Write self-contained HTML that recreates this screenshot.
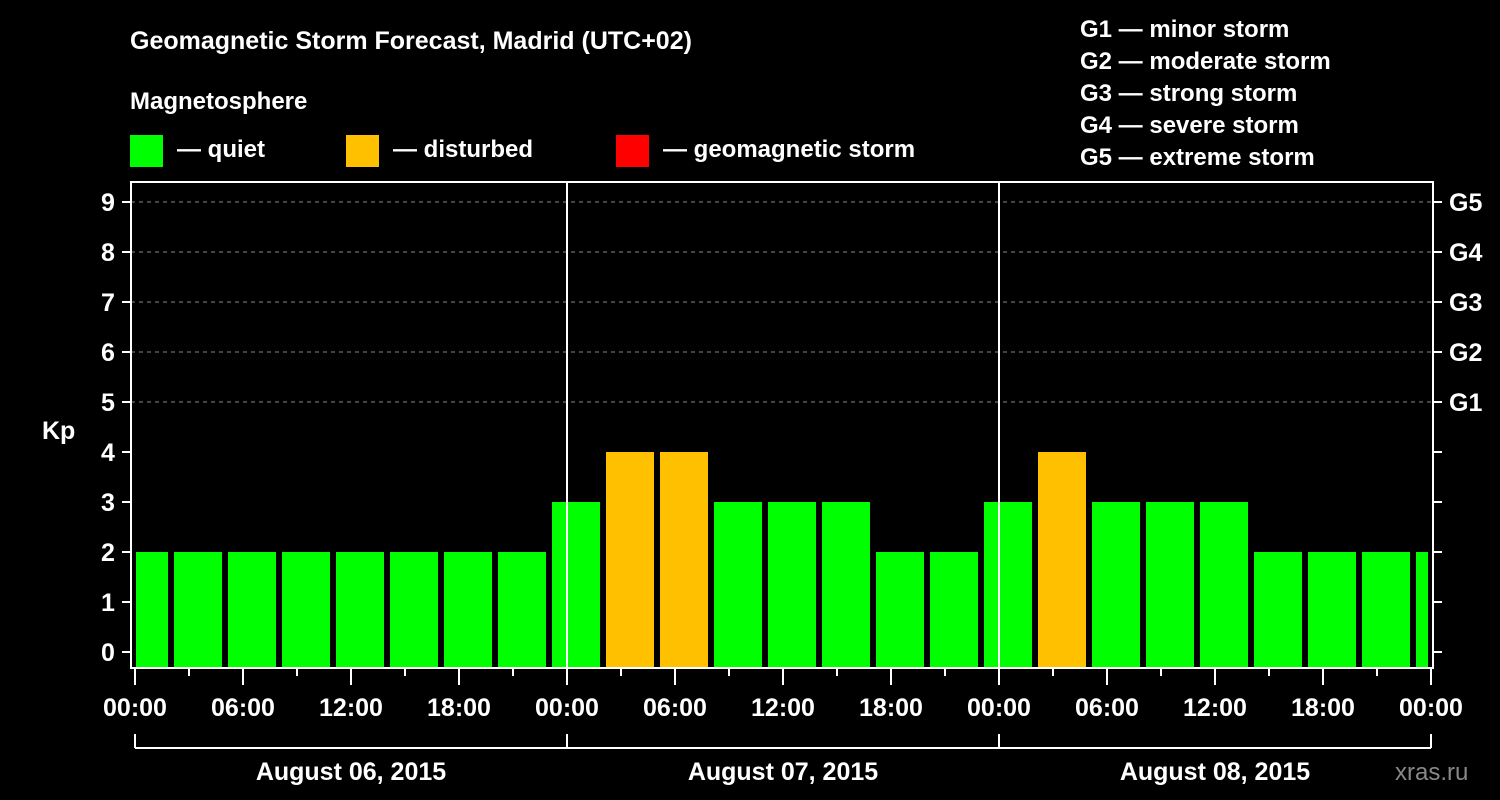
<!DOCTYPE html>
<html><head><meta charset="utf-8"><style>
html,body{margin:0;padding:0;background:#000;}
svg{display:block;font-family:"Liberation Sans",sans-serif;font-weight:bold;}
</style></head><body>
<svg width="1500" height="800" viewBox="0 0 1500 800">
<g id="static" fill="#fff">
<text x="130" y="49" font-size="25">Geomagnetic Storm Forecast, Madrid (UTC+02)</text>
<text x="130" y="109" font-size="24">Magnetosphere</text>
<rect x="130" y="135" width="33" height="32" fill="#00ff00"/>
<text x="177" y="157" font-size="24">— quiet</text>
<rect x="346" y="135" width="33" height="32" fill="#ffc000"/>
<text x="393" y="157" font-size="24">— disturbed</text>
<rect x="616" y="135" width="33" height="32" fill="#ff0000"/>
<text x="663" y="157" font-size="24">— geomagnetic storm</text>
<text x="1080" y="37" font-size="24">G1 — minor storm</text>
<text x="1080" y="69" font-size="24">G2 — moderate storm</text>
<text x="1080" y="101" font-size="24">G3 — strong storm</text>
<text x="1080" y="133" font-size="24">G4 — severe storm</text>
<text x="1080" y="165" font-size="24">G5 — extreme storm</text>
<text x="42" y="439" font-size="25">Kp</text>
<text x="1395" y="780" font-size="24" fill="#888" font-weight="normal">xras.ru</text>
</g>
<g id="grid"></g>
<g id="bars"></g>
<g id="axes"></g>
</svg>
<script>
const kpValues=[2,2,2,2,2,2,2,2,3,4,4,3,3,3,2,2,3,4,3,3,3,2,2,2,2];
const firstSlotHour=-1;
const slotHours=3;
const yTicks=[0,1,2,3,4,5,6,7,8,9];
const gLabels=["G1","G2","G3","G4","G5"];
const gLevels=[5,6,7,8,9];
const xTickLabels=["00:00","06:00","12:00","18:00","00:00","06:00","12:00","18:00","00:00","06:00","12:00","18:00","00:00"];
const dayLabels=["August 06, 2015","August 07, 2015","August 08, 2015"];

const NS="http://www.w3.org/2000/svg";
const L=131,R=1433,T=182,B=668;
const x0=135,pxPerHour=18;
const xs=h=>x0+h*pxPerHour;
const ys=v=>652-v*50;
function mk(tag,attrs,parent,text){const e=document.createElementNS(NS,tag);for(const k in attrs)e.setAttribute(k,attrs[k]);if(text!==undefined)e.textContent=text;parent.appendChild(e);return e;}
const grid=document.getElementById('grid'),bars=document.getElementById('bars'),axes=document.getElementById('axes');

gLevels.forEach((g,i)=>{
 const l=mk('line',{x1:L,x2:R,y1:ys(g),y2:ys(g),stroke:'#888','stroke-dasharray':'4,4','stroke-width':1},grid);
 
 
 const t=mk('text',{x:1449,y:ys(g)+9,fill:'#fff','font-size':25},axes,gLabels[i]);
 
 
});
kpValues.forEach((v,i)=>{
 const h0=firstSlotHour+i*slotHours;
 let a=xs(h0)+3,b=xs(h0+slotHours)-3;
 a=Math.max(a,L+5);b=Math.min(b,R-5);
 const c=v>=5?'#ff0000':(v>=4?'#ffc000':'#00ff00');
 const r=mk('rect',{x:a,y:ys(v),width:b-a,height:B-1-ys(v),fill:c},bars);
 
 
});
[1,2].forEach(d=>{
 const l=mk('line',{x1:xs(24*d),x2:xs(24*d),y1:T,y2:B,stroke:'#fff','stroke-width':2},axes);
 
 
});
const fr=mk('rect',{x:L,y:T,width:R-L,height:B-T,fill:'none',stroke:'#fff','stroke-width':2},axes);


yTicks.forEach(v=>{
 mk('line',{x1:122,x2:L,y1:ys(v),y2:ys(v),stroke:'#fff','stroke-width':2},axes);
 mk('line',{x1:R,x2:1442,y1:ys(v),y2:ys(v),stroke:'#fff','stroke-width':2},axes);
 const t=mk('text',{x:108,y:ys(v)+9,fill:'#fff','font-size':25,'text-anchor':'middle'},axes,String(v));
 
 
});
for(let h=0;h<=72;h+=3){
 const major=h%6===0;
 mk('line',{x1:xs(h),x2:xs(h),y1:B,y2:B+(major?17:8),stroke:'#fff','stroke-width':2},axes);
}
xTickLabels.forEach((s,i)=>{
 const t=mk('text',{x:xs(i*6),y:716,fill:'#fff','font-size':25,'text-anchor':'middle'},axes,s);
 
 
});
mk('line',{x1:xs(0),x2:xs(72),y1:748,y2:748,stroke:'#fff','stroke-width':2},axes);
for(let d=0;d<=3;d++)mk('line',{x1:xs(24*d),x2:xs(24*d),y1:734,y2:748,stroke:'#fff','stroke-width':2},axes);
dayLabels.forEach((s,i)=>{
 const t=mk('text',{x:xs(24*i+12),y:780,fill:'#fff','font-size':25,'text-anchor':'middle'},axes,s);
 
 
});
</script>
</body></html>
